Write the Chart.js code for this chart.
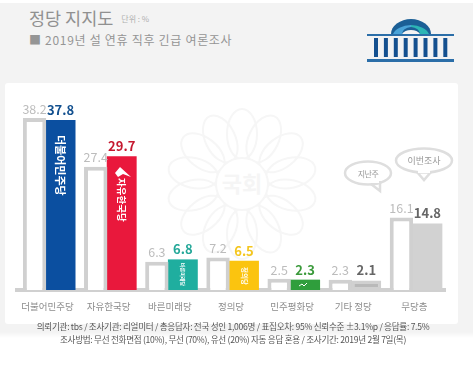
<!DOCTYPE html>
<html>
<head>
<meta charset="utf-8">
<script src="https://cdn.jsdelivr.net/npm/chart.js@4"></script>
<style>
html, body { margin: 0; padding: 0; background: #fff; }
#page { position: relative; width: 473px; height: 366px; overflow: hidden; font-family: "Noto Sans CJK KR", sans-serif; }
#bg { position: absolute; left: 0; top: 3px; width: 473px; height: 335px; background: linear-gradient(#f3f3f3 0, #f3f3f3 329px, #fff 100%); }
#card { position: absolute; left: 5px; top: 83px; width: 453px; height: 241px; background: #fff; border-radius: 3px; }
#title { position: absolute; left: 29px; top: 4px; font-size: 17.5px; color: #909090; line-height: 28px; white-space: nowrap; }
#title small { font-size: 8px; color: #b0b0b0; margin-left: 4px; vertical-align: 3px; }
#sub { position: absolute; left: 29px; top: 31px; font-size: 12px; letter-spacing: .7px; color: #959595; line-height: 18px; white-space: nowrap; }
#foot { position: absolute; left: 0; width: 466px; top: 320px; text-align: center; font-size: 8.6px; line-height: 13px; color: #555; letter-spacing: -.3px; }
svg, canvas { position: absolute; left: 0; top: 0; }
</style>
</head>
<body>
<div id="page">
  <div id="bg"></div>
  <div id="card"></div>
  <div id="title">정당 지지도 <small>단위 : %</small></div>
  <div id="sub">■ 2019년 설 연휴 직후 긴급 여론조사</div>

  <svg width="473" height="366" id="deco"></svg>
  <canvas id="myChart" width="473" height="366"></canvas>
  <svg width="473" height="366">
    <g fill="none" stroke="#dedede" stroke-width="2.5">
      <ellipse cx="368" cy="173" rx="23" ry="11.5"/>
      <path d="M371 184 L380 191 L380 181"/>
      <ellipse cx="424" cy="160.5" rx="28" ry="12"/>
      <path d="M417 172 L424 180 L431 172"/>
    </g>
    <rect x="369" y="180" width="10" height="3" fill="#fff"/>
    <rect x="418" y="170" width="12" height="3" fill="#fff"/>
    <text x="368" y="177" text-anchor="middle" font-size="8" letter-spacing="-.5" fill="#999" font-family="Noto Sans CJK KR">지난주</text>
    <text x="424" y="164" text-anchor="middle" font-size="9" fill="#999" font-family="Noto Sans CJK KR">이번조사</text>
    <path d="M115 173 L120 167 L131 177 L123 174 L118 177 Z" fill="#fff"/>
    <path d="M299 286 l3 -2 l2 2 l3 -3" fill="none" stroke="#fff" stroke-width="1"/>
  </svg>
  <div id="foot">의뢰기관: tbs / 조사기관: 리얼미터 / 총응답자: 전국 성인 1,006명 / 표집오차: 95% 신뢰수준 ±3.1%p / 응답률: 7.5%<br>조사방법: 무선 전화면접 (10%), 무선 (70%), 유선 (20%) 자동 응답 혼용 / 조사기간: 2019년 2월 7일(목)</div>
</div>
<script>
const categories = ['더불어민주당', '자유한국당', '바른미래당', '정의당', '민주평화당', '기타 정당', '무당층']
const previousValues = [38.2, 27.4, 6.3, 7.2, 2.5, 2.3, 16.1]
const currentValues = [37.8, 29.7, 6.8, 6.5, 2.3, 2.1, 14.8]
const barColors = ['#0b4fa0', '#e9183c', '#1fae9f', '#fbc40f', '#2f9e3c', '#b9b9b9', '#d2d2d2']
const labelColors = ['#12508f', '#c5182f', '#25a899', '#f4c61e', '#3b9a3b', '#666666', '#666666']
const barNames = ['더불어민주당', '자유한국당', '바른미래당', '정의당', '', '', '']
const barNameSizes = [11, 9.5, 5, 6.5, 0, 0, 0]
const barNameTops = [135, 178, 263, 267, 0, 0, 0]

// watermark emblem behind the chart
let deco = ''
for (let i = 0; i < 14; i++) {
    deco += `<ellipse cx="242" cy="134" rx="15" ry="25" transform="rotate(${i * 360 / 14} 242 184)" fill="none" stroke="#f6f6f6" stroke-width="2"/>`
}
deco += `<circle cx="242" cy="184" r="26" fill="#fff" stroke="#f6f6f6" stroke-width="2"/>`
deco += `<text x="242" y="192" text-anchor="middle" font-size="22" font-weight="700" fill="#f5f5f5" font-family="Noto Sans CJK KR">국회</text>`
// national assembly logo, top right
deco += `<path d="M391 34 A20 15 0 0 1 431 34 Z" fill="#1b5f96"/>`
deco += `<path d="M393 34 A20 12 0 0 1 411 25 L411 27 A10 7 0 0 0 402 34 Z" fill="#4aa3d8"/>`
deco += `<path d="M429 34 A20 12 0 0 0 411 25 L411 27 A10 7 0 0 1 420 34 Z" fill="#2cb5b5"/>`
deco += `<path d="M402 34 A10 7 0 0 1 420 34 Z" fill="#f3f3f3"/>`
deco += `<rect x="367" y="34" width="87" height="2" fill="#2b6ea8"/>`
for (let i = 0; i < 8; i++) {
    deco += `<rect x="${374 + i * 9.9}" y="38" width="4" height="19" fill="#14508f"/>`
}
deco += `<rect x="367" y="59" width="87" height="3" fill="#2b6ea8"/>`
document.getElementById('deco').innerHTML = deco

const valueLabels = {
    id: 'valueLabels',
    afterDatasetsDraw(chart) {
        const ctx = chart.ctx
        const prev = chart.getDatasetMeta(0).data
        const curr = chart.getDatasetMeta(1).data
        ctx.save()
        ctx.textAlign = 'center'
        ctx.textBaseline = 'middle'
        prev.forEach((bar, i) => {
            ctx.font = '12.5px "Noto Sans CJK KR"'
            ctx.fillStyle = '#bcbcbc'
            ctx.fillText(previousValues[i].toFixed(1), bar.x, bar.y - 9)
        })
        curr.forEach((bar, i) => {
            ctx.font = 'bold 13px "Noto Sans CJK KR"'
            ctx.fillStyle = labelColors[i]
            ctx.fillText(currentValues[i].toFixed(1), bar.x, bar.y - 10)
            if (barNames[i]) {
                ctx.save()
                ctx.translate(bar.x, barNameTops[i])
                ctx.rotate(Math.PI / 2)
                ctx.textAlign = 'left'
                ctx.font = `bold ${barNameSizes[i]}px "Noto Sans CJK KR"`
                ctx.fillStyle = '#fff'
                ctx.fillText(barNames[i], 0, 0)
                ctx.restore()
            }
        })
        ctx.restore()
    }
}

const myChart = new Chart(document.getElementById('myChart'), {
    type: 'bar',
    data: {
        labels: categories,
        datasets: [{
            label: '지난주',
            data: previousValues,
            backgroundColor: '#fff',
            borderColor: '#d0d0d0',
            borderWidth: 4,
            borderSkipped: 'bottom',
            barPercentage: 0.9
        }, {
            label: '이번조사',
            data: currentValues,
            backgroundColor: barColors,
            borderColor: '#d0d0d0',
            borderWidth: [0, 0, 0, 0, 0, 3, 0],
            borderSkipped: false,
            barPercentage: 1.15
        }]
    },
    options: {
        responsive: false,
        animation: false,
        categoryPercentage: 0.85,
        layout: { padding: { left: 17, right: 28, top: 110, bottom: 54 } },
        plugins: { legend: { display: false }, tooltip: { enabled: false } },
        scales: {
            x: {
                afterFit(scale) { scale.height = 22 },
                grid: { display: false },
                border: { color: '#d0d0d0', width: 4 },
                ticks: { color: '#8c8c8c', font: { size: 9.5, family: 'Noto Sans CJK KR' }, maxRotation: 0, padding: 3 }
            },
            y: { display: false, min: 0, max: 40 }
        }
    },
    plugins: [valueLabels]
})
</script>
</body>
</html>
